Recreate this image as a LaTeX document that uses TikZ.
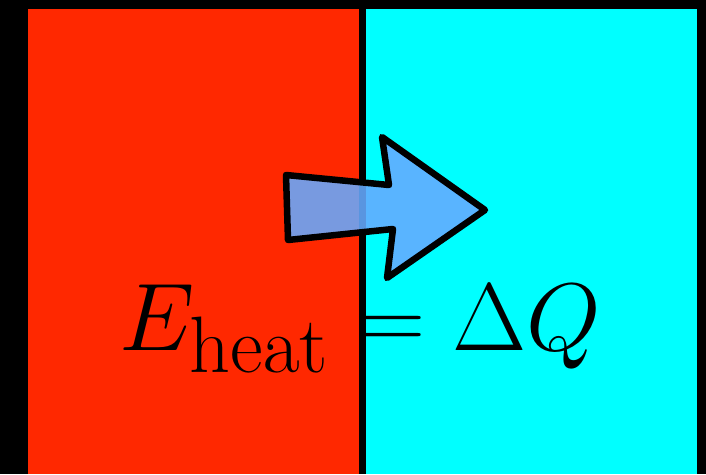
\documentclass[tikz,border=0pt]{standalone}
\usepackage{amsmath}
\definecolor{hotred}{RGB}{255,40,0}
\definecolor{coldcyan}{RGB}{0,255,255}
\definecolor{arrowblue}{RGB}{102,170,255}
\begin{document}
\begin{tikzpicture}[
    x=1pt, y=-1pt,
    panel/.style={inner sep=0pt, outer sep=0pt, anchor=north west},
    heatarrow/.style={draw=black, line width=6.5pt, line join=round,
        fill=arrowblue, fill opacity=0.88},
    formula/.style={inner sep=0pt, scale=3.86, font=\Huge}
]
\fill[black] (0,0) rectangle (706,474);
\node[panel, fill=hotred, minimum width=331pt, minimum height=465pt] (hot) at (28,9) {};
\node[panel, fill=coldcyan, minimum width=331pt, minimum height=465pt] (cold) at (366,9) {};
\draw[heatarrow] (286,175) -- (389,185) -- (382,137) -- (485,210)
    -- (387,278) -- (393,229) -- (288,240) -- cycle;
\node[formula, anchor=base west] (eq) at (119,350) {$E_{\mathrm{heat}} = \Delta Q$};
\end{tikzpicture}
\end{document}
